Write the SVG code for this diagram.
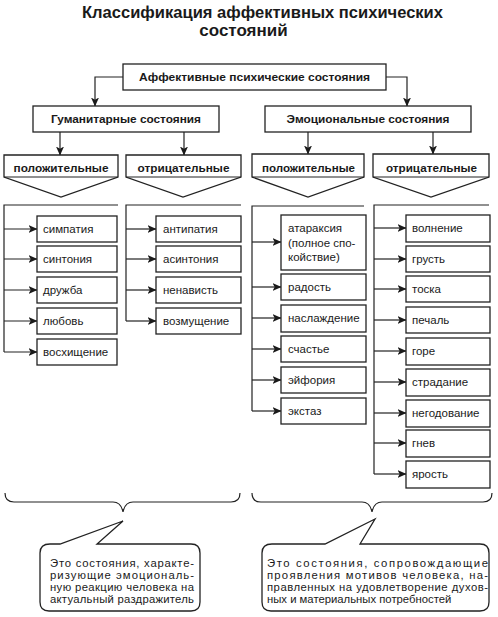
<svg xmlns="http://www.w3.org/2000/svg" width="498" height="617" viewBox="0 0 498 617">
<style>
  .bg { fill: #ffffff; }
  .box { fill: #ffffff; stroke: #222; stroke-width: 1.3; }
  .ln { fill: none; stroke: #222; stroke-width: 1.2; }
  .t { font-family: "Liberation Sans", Arial, sans-serif; font-size: 11.5px; fill: #1a1a1a; }
  .h { font-family: "Liberation Sans", Arial, sans-serif; font-size: 11.5px; font-weight: bold; fill: #1a1a1a; text-anchor: middle; }
  .title { font-family: "Liberation Sans", Arial, sans-serif; font-size: 17px; font-weight: bold; fill: #1a1a1a; text-anchor: middle; }
  .c { font-family: "Liberation Sans", Arial, sans-serif; font-size: 11.3px; fill: #1a1a1a; }
</style>
<defs>
  <marker id="arr" markerWidth="9" markerHeight="8" refX="8.5" refY="4" orient="auto" markerUnits="userSpaceOnUse">
    <path d="M0,0 L9,4 L0,8 L2.2,4 Z" fill="#1a1a1a"/>
  </marker>
</defs>
<rect class="bg" x="0" y="0" width="498" height="617"/>

<g id="title">
  <text class="title" x="262.5" y="18" textLength="361" lengthAdjust="spacingAndGlyphs">Классификация аффективных психических</text>
  <text class="title" x="243.5" y="36">состояний</text>
</g>

<g id="connectors">
  <!-- top to level 2 -->
  <path class="ln" d="M123,77 H95 V106" marker-end="url(#arr)"/>
  <path class="ln" d="M386,77 H407 V106" marker-end="url(#arr)"/>
  <!-- level 2 to level 3 -->
  <path class="ln" d="M60,132 V155" marker-end="url(#arr)"/>
  <path class="ln" d="M184,132 V155" marker-end="url(#arr)"/>
  <path class="ln" d="M308,132 V154" marker-end="url(#arr)"/>
  <path class="ln" d="M433,132 V154" marker-end="url(#arr)"/>
  <!-- brackets -->
  <path class="ln" d="M118,205 H4 V352"/>
  <path class="ln" d="M241,205 H126 V321"/>
  <path class="ln" d="M364,206 H252 V411"/>
  <path class="ln" d="M489,205 H374 V474"/>
  <!-- hum pos arrows -->
  <path class="ln" d="M4,229 H37" marker-end="url(#arr)"/>
  <path class="ln" d="M4,259 H37" marker-end="url(#arr)"/>
  <path class="ln" d="M4,290 H37" marker-end="url(#arr)"/>
  <path class="ln" d="M4,321 H37" marker-end="url(#arr)"/>
  <path class="ln" d="M4,352 H37" marker-end="url(#arr)"/>
  <!-- hum neg arrows -->
  <path class="ln" d="M126,229 H156" marker-end="url(#arr)"/>
  <path class="ln" d="M126,259 H156" marker-end="url(#arr)"/>
  <path class="ln" d="M126,290 H156" marker-end="url(#arr)"/>
  <path class="ln" d="M126,321 H156" marker-end="url(#arr)"/>
  <!-- emo pos arrows -->
  <path class="ln" d="M252,242 H281" marker-end="url(#arr)"/>
  <path class="ln" d="M252,287 H281" marker-end="url(#arr)"/>
  <path class="ln" d="M252,318 H281" marker-end="url(#arr)"/>
  <path class="ln" d="M252,349 H281" marker-end="url(#arr)"/>
  <path class="ln" d="M252,380 H281" marker-end="url(#arr)"/>
  <path class="ln" d="M252,411 H281" marker-end="url(#arr)"/>
  <!-- emo neg arrows -->
  <path class="ln" d="M374,228 H406" marker-end="url(#arr)"/>
  <path class="ln" d="M374,259 H406" marker-end="url(#arr)"/>
  <path class="ln" d="M374,289 H406" marker-end="url(#arr)"/>
  <path class="ln" d="M374,320 H406" marker-end="url(#arr)"/>
  <path class="ln" d="M374,351 H406" marker-end="url(#arr)"/>
  <path class="ln" d="M374,382 H406" marker-end="url(#arr)"/>
  <path class="ln" d="M374,413 H406" marker-end="url(#arr)"/>
  <path class="ln" d="M374,443 H406" marker-end="url(#arr)"/>
  <path class="ln" d="M374,474 H406" marker-end="url(#arr)"/>
  <!-- braces -->
  <path class="ln" d="M5,493 Q5,502 14,502 L113,502 Q121,502 123,512 Q125,502 133,502 L231,502 Q240,502 240,493"/>
  <path class="ln" d="M252,493 Q252,502 261,502 L362,502 Q370,502 372,512 Q374,502 382,502 L483,502 Q492,502 492,493"/>
</g>

<g id="n-root">
  <rect class="box" x="123" y="64" width="263" height="26"/>
  <text class="h" x="254.5" y="81" textLength="231" lengthAdjust="spacingAndGlyphs">Аффективные психические состояния</text>
</g>
<g id="n-hum">
  <rect class="box" x="33" y="106" width="186" height="26"/>
  <text class="h" x="126" y="123" textLength="150" lengthAdjust="spacingAndGlyphs">Гуманитарные состояния</text>
</g>
<g id="n-emo">
  <rect class="box" x="265" y="106" width="206" height="26"/>
  <text class="h" x="368" y="123" textLength="163" lengthAdjust="spacingAndGlyphs">Эмоциональные состояния</text>
</g>

<g id="n-hum-pos">
  <path class="box" d="M4,155 H118 V177 L61,197 L4,177 Z"/>
  <path class="ln" d="M4,177 H118"/>
  <text class="h" x="61" y="172" textLength="95" lengthAdjust="spacingAndGlyphs">положительные</text>
</g>
<g id="n-hum-neg">
  <path class="box" d="M126,155 H241 V177 L183,197 L126,177 Z"/>
  <path class="ln" d="M126,177 H241"/>
  <text class="h" x="183.5" y="172" textLength="92" lengthAdjust="spacingAndGlyphs">отрицательные</text>
</g>
<g id="n-emo-pos">
  <path class="box" d="M252,154 H364 V177 L308,197 L252,177 Z"/>
  <path class="ln" d="M252,177 H364"/>
  <text class="h" x="308.5" y="172" textLength="93" lengthAdjust="spacingAndGlyphs">положительные</text>
</g>
<g id="n-emo-neg">
  <path class="box" d="M373,154 H489 V177 L431,197 L373,177 Z"/>
  <path class="ln" d="M373,177 H489"/>
  <text class="h" x="431.5" y="172" textLength="91" lengthAdjust="spacingAndGlyphs">отрицательные</text>
</g>

<!-- humanitarian positive items -->
<g id="n-simpatiya"><rect class="box" x="37" y="216" width="80" height="26"/><text class="t" x="43" y="233">симпатия</text></g>
<g id="n-sintoniya"><rect class="box" x="37" y="246" width="80" height="26"/><text class="t" x="43" y="263">синтония</text></g>
<g id="n-druzhba"><rect class="box" x="37" y="277" width="80" height="26"/><text class="t" x="43" y="294">дружба</text></g>
<g id="n-lyubov"><rect class="box" x="37" y="308" width="80" height="26"/><text class="t" x="43" y="325">любовь</text></g>
<g id="n-voskhishchenie"><rect class="box" x="37" y="339" width="80" height="26"/><text class="t" x="43" y="356">восхищение</text></g>

<!-- humanitarian negative items -->
<g id="n-antipatiya"><rect class="box" x="156" y="216" width="85" height="26"/><text class="t" x="163" y="233">антипатия</text></g>
<g id="n-asintoniya"><rect class="box" x="156" y="246" width="85" height="26"/><text class="t" x="163" y="263">асинтония</text></g>
<g id="n-nenavist"><rect class="box" x="156" y="277" width="85" height="26"/><text class="t" x="163" y="294">ненависть</text></g>
<g id="n-vozmushchenie"><rect class="box" x="156" y="308" width="85" height="26"/><text class="t" x="163" y="325">возмущение</text></g>

<!-- emotional positive items -->
<g id="n-ataraksiya"><rect class="box" x="281" y="215" width="85" height="55"/>
  <text class="t" x="288" y="232">атараксия</text>
  <text class="t" x="288" y="246.5">(полное спо-</text>
  <text class="t" x="288" y="261">койствие)</text>
</g>
<g id="n-radost"><rect class="box" x="281" y="274" width="85" height="26"/><text class="t" x="288" y="291">радость</text></g>
<g id="n-naslazhdenie"><rect class="box" x="281" y="305" width="85" height="27"/><text class="t" x="288" y="322">наслаждение</text></g>
<g id="n-schastye"><rect class="box" x="281" y="336" width="85" height="26"/><text class="t" x="288" y="353">счастье</text></g>
<g id="n-eyforiya"><rect class="box" x="281" y="367" width="85" height="26"/><text class="t" x="288" y="384">эйфория</text></g>
<g id="n-ekstaz"><rect class="box" x="281" y="398" width="85" height="26"/><text class="t" x="288" y="415">экстаз</text></g>

<!-- emotional negative items -->
<g id="n-volnenie"><rect class="box" x="406" y="215" width="84" height="27"/><text class="t" x="412" y="232">волнение</text></g>
<g id="n-grust"><rect class="box" x="406" y="246" width="84" height="26"/><text class="t" x="412" y="263">грусть</text></g>
<g id="n-toska"><rect class="box" x="406" y="276" width="84" height="26"/><text class="t" x="412" y="293">тоска</text></g>
<g id="n-pechal"><rect class="box" x="406" y="307" width="84" height="26"/><text class="t" x="412" y="324">печаль</text></g>
<g id="n-gore"><rect class="box" x="406" y="338" width="84" height="27"/><text class="t" x="412" y="355">горе</text></g>
<g id="n-stradanie"><rect class="box" x="406" y="369" width="84" height="27"/><text class="t" x="412" y="386">страдание</text></g>
<g id="n-negodovanie"><rect class="box" x="406" y="400" width="84" height="27"/><text class="t" x="412" y="417">негодование</text></g>
<g id="n-gnev"><rect class="box" x="406" y="430" width="84" height="27"/><text class="t" x="412" y="447">гнев</text></g>
<g id="n-yarost"><rect class="box" x="406" y="461" width="84" height="27"/><text class="t" x="412" y="478">ярость</text></g>

<!-- callouts -->
<g id="n-note-hum">
  <path class="box" d="M50,544 L60,544 L123,521 L97,544 L191,544 Q200,544 200,553 L200,602 Q200,611 191,611 L49,611 Q40,611 40,602 L40,553 Q40,544 50,544 Z"/>
  <text class="c" x="50" y="567" textLength="144" lengthAdjust="spacing">Это состояния, характе-</text>
  <text class="c" x="50" y="579" textLength="144" lengthAdjust="spacing">ризующие эмоциональ-</text>
  <text class="c" x="50" y="591" textLength="144" lengthAdjust="spacing">ную реакцию человека на</text>
  <text class="c" x="50" y="603" textLength="144" lengthAdjust="spacing">актуальный раздражитель</text>
</g>
<g id="n-note-emo">
  <path class="box" d="M272,544 L325,544 L375,519 L360,544 L480,544 Q489,544 489,553 L489,602 Q489,611 480,611 L271,611 Q262,611 262,602 L262,553 Q262,544 272,544 Z"/>
  <text class="c" x="267" y="567" textLength="221" lengthAdjust="spacing">Это состояния, сопровождающие</text>
  <text class="c" x="267" y="579" textLength="221" lengthAdjust="spacing">проявления мотивов человека, на-</text>
  <text class="c" x="267" y="591" textLength="221" lengthAdjust="spacing">правленных на удовлетворение духов-</text>
  <text class="c" x="267" y="603">ных и материальных потребностей</text>
</g>
</svg>
